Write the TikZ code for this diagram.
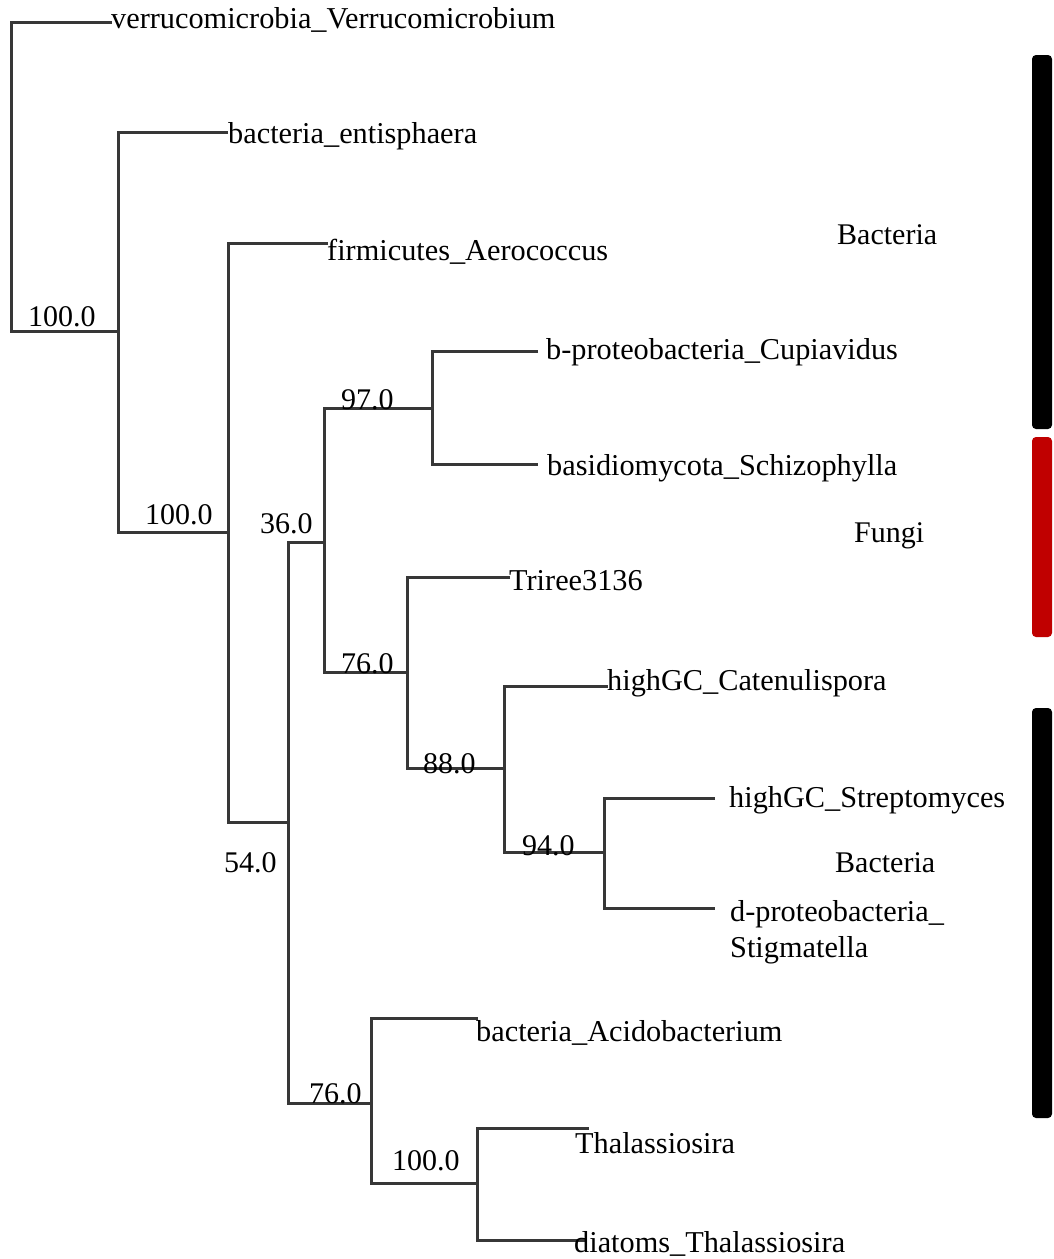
\documentclass[tikz,border=0pt]{standalone}
\usepackage{fontspec}
\setmainfont{Liberation Serif}
\definecolor{branchgrey}{RGB}{55,55,55}
\definecolor{fungired}{RGB}{192,0,0}
\begin{document}
\begin{tikzpicture}[x=1pt,y=-1pt,
  branch/.style={draw=branchgrey, line width=3pt, line join=miter},
  taxon/.style={anchor=base west, inner sep=0pt, font=\fontsize{30.3}{34}\selectfont},
  support/.style={anchor=base west, inner sep=0pt, font=\fontsize{30}{34}\selectfont},
  group/.style={anchor=base west, inner sep=0pt, font=\fontsize{30}{34}\selectfont},
  groupbar/.style={rounded corners=4pt}]
\useasboundingbox (0,0) rectangle (1053,1259);

% internal nodes (where the parent branch meets the vertical)
\coordinate (R) at (11,176);
\coordinate (A) at (118,331);
\coordinate (B) at (228,532);
\coordinate (C) at (288,822);
\coordinate (D) at (324,542);
\coordinate (E) at (432,408);
\coordinate (F) at (407,672);
\coordinate (G) at (504,768);
\coordinate (H) at (604,852);
\coordinate (I) at (371,1103);
\coordinate (J) at (477,1183);

% branch tips
\coordinate (t1) at (112,22);
\coordinate (t2) at (228,132);
\coordinate (t3) at (328,243);
\coordinate (t4) at (538,351);
\coordinate (t5) at (538,464);
\coordinate (t6) at (510,577);
\coordinate (t7) at (608,686);
\coordinate (t8) at (715,798);
\coordinate (t9) at (715,908);
\coordinate (t10) at (478,1018);
\coordinate (t11) at (589,1128);
\coordinate (t12) at (586,1240);

% branches
\draw[branch] (t1) -| (R) |- (A);
\draw[branch] (t2) -| (A) |- (B);
\draw[branch] (t3) -| (B) |- (C);
\draw[branch] (D) -| (C) |- (I);
\draw[branch] (E) -| (D) |- (F);
\draw[branch] (t4) -| (E) |- (t5);
\draw[branch] (t6) -| (F) |- (G);
\draw[branch] (t7) -| (G) |- (H);
\draw[branch] (t8) -| (H) |- (t9);
\draw[branch] (t10) -| (I) |- (J);
\draw[branch] (t11) -| (J) |- (t12);

% taxon names
\node[taxon] (n1) at (111,28) {verrucomicrobia\_Verrucomicrobium};
\node[taxon] (n2) at (228,143) {bacteria\_entisphaera};
\node[taxon] (n3) at (327,260) {firmicutes\_Aerococcus};
\node[taxon] (n4) at (546,359) {b-proteobacteria\_Cupiavidus};
\node[taxon] (n5) at (547,475) {basidiomycota\_Schizophylla};
\node[taxon] (n6) at (509,590) {Triree3136};
\node[taxon] (n7) at (607,690) {highGC\_Catenulispora};
\node[taxon] (n8) at (729,807) {highGC\_Streptomyces};
\node[taxon] (n9) at (730,921) {d-proteobacteria\_};
\node[taxon] (n9b) at (730,957) {Stigmatella};
\node[taxon] (n10) at (476,1041) {bacteria\_Acidobacterium};
\node[taxon] (n11) at (575,1153) {Thalassiosira};
\node[taxon] (n12) at (574,1252) {diatoms\_Thalassiosira};

% bootstrap support values
\node[support] (s1) at (28,326) {100.0};
\node[support] (s2) at (145,524) {100.0};
\node[support] (s3) at (224,872) {54.0};
\node[support] (s4) at (260,533) {36.0};
\node[support] (s5) at (341,409) {97.0};
\node[support] (s6) at (341,673) {76.0};
\node[support] (s7) at (423,773) {88.0};
\node[support] (s8) at (522,855) {94.0};
\node[support] (s9) at (309,1103) {76.0};
\node[support] (s10) at (392,1170) {100.0};

% group labels and bars
\node[group] (g1) at (837,244) {Bacteria};
\node[group] (g2) at (854,542) {Fungi};
\node[group] (g3) at (835,872) {Bacteria};
\fill[groupbar, black] (1032,55) rectangle (1052,429);
\fill[groupbar, fungired] (1032,437) rectangle (1052,637);
\fill[groupbar, black] (1032,708) rectangle (1052,1118);
\end{tikzpicture}
\end{document}
